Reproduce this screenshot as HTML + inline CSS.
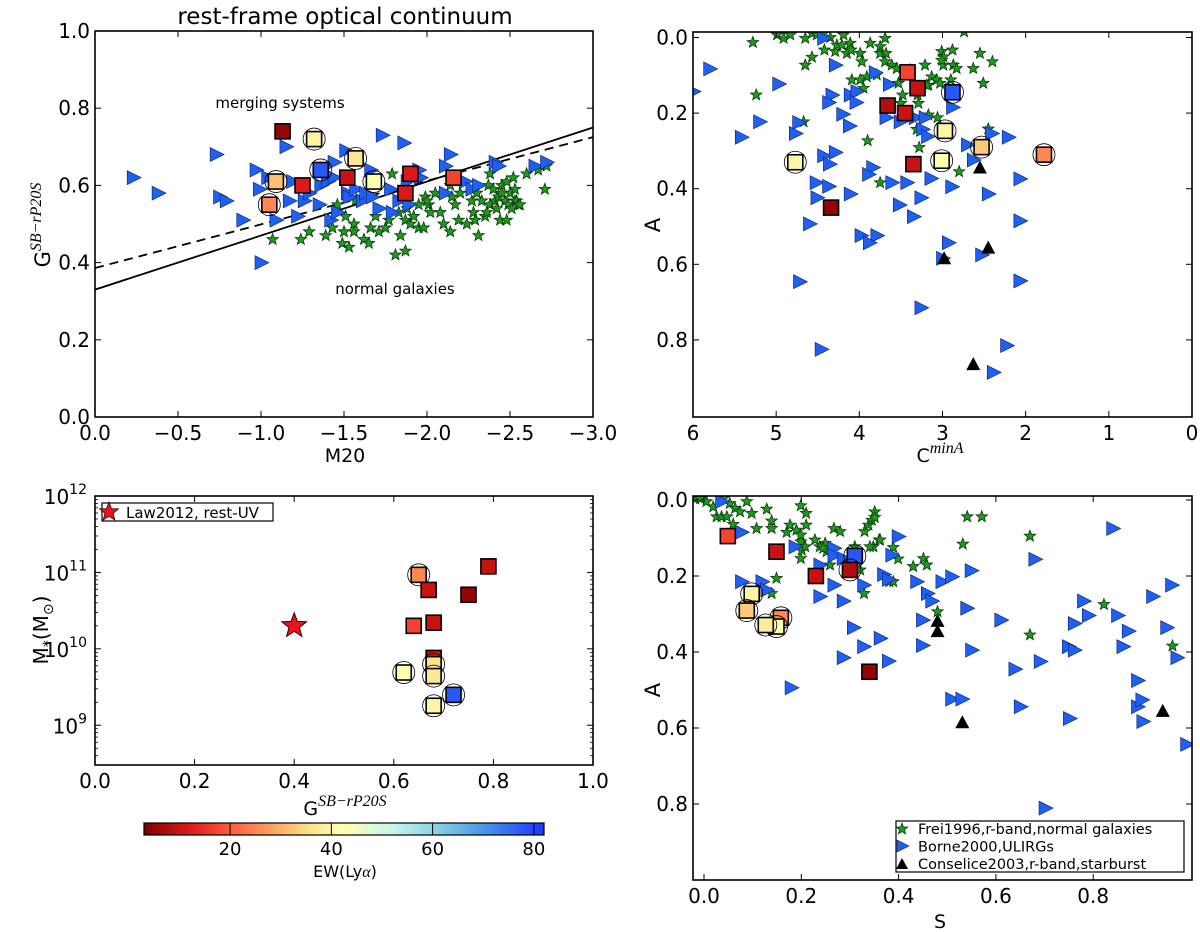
<!DOCTYPE html>
<html><head><meta charset="utf-8"><style>
html,body{margin:0;padding:0;background:#fff;}
svg{display:block;font-family:"DejaVu Sans","Liberation Sans",sans-serif;}
</style></head><body>
<svg id="fig" width="1200" height="932" viewBox="0 0 1200 932" xmlns="http://www.w3.org/2000/svg">
<rect width="1200" height="932" fill="#fff"/>
<text x="345" y="24" font-size="23" text-anchor="middle">rest-frame optical continuum</text>
<g id="p1"></g>
<g id="p2"></g>
<g id="p3"></g>
<g id="p4"></g>
<g id="cb"></g>
</svg>
<script>
// ---------- Panel 1: G vs M20 ----------
const p1StarM20=[-1.07,-1.24,-1.29,-1.39,-1.43,-1.46,-1.49,-1.50,-1.53,-1.51,-1.56,-1.56,-1.57,-1.62,-1.65,-1.66,-1.69,-1.71,-1.75,-1.77,-1.79,-1.81,-1.83,-1.84,-1.87,-1.87,-1.88,-1.90,-1.92,-1.95,-1.98,-1.99,-2.01,-2.02,-2.05,-2.08,-2.10,-2.14,-2.15,-2.17,-2.19,-2.24,-2.27,-2.28,-2.31,-2.33,-2.35,-2.37,-2.38,-2.38,-2.40,-2.41,-2.42,-2.44,-2.45,-2.47,-2.48,-2.49,-2.50,-2.52,-2.53,-2.53,-2.54,-2.55,-2.56,-2.60,-2.67,-2.71,-2.72,-2.48,-2.29,-2.36,-2.51,-2.43,-2.14,-2.00,-2.20,-2.30,-2.45,-1.95];
const p1StarG=[.46,.46,.48,.47,.49,.55,.45,.48,.44,.52,.50,.48,.56,.46,.45,.49,.52,.48,.49,.51,.63,.42,.53,.47,.43,.51,.54,.50,.52,.49,.49,.57,.55,.53,.58,.53,.50,.48,.57,.55,.51,.50,.56,.53,.47,.56,.52,.60,.63,.55,.59,.56,.54,.51,.60,.56,.61,.55,.58,.62,.56,.59,.56,.55,.55,.63,.64,.59,.65,.51,.51,.53,.54,.57,.60,.56,.58,.58,.58,.55];
const p1TriM20=[-0.23,-0.38,-0.73,-0.75,-0.79,-0.89,-0.97,-0.99,-1.04,-1.09,-1.15,-1.17,-1.19,-1.22,-1.26,-1.29,-1.35,-1.36,-1.40,-1.42,-1.44,-1.46,-1.44,-1.51,-1.52,-1.53,-1.57,-1.61,-1.63,-1.66,-1.67,-1.71,-1.73,-1.78,-1.79,-1.83,-1.86,-1.88,-1.89,-1.95,-1.96,-2.11,-2.11,-2.14,-2.23,-2.27,-2.31,-2.41,-2.43,-2.65,-2.72,-1.00,-1.25];
const p1TriG=[.62,.58,.68,.57,.56,.51,.64,.59,.62,.51,.70,.56,.61,.52,.56,.58,.55,.60,.61,.51,.66,.53,.62,.69,.58,.57,.59,.56,.58,.64,.57,.54,.73,.59,.53,.56,.71,.61,.55,.64,.62,.65,.58,.68,.61,.59,.60,.66,.65,.65,.66,.40,.60];
const p1SqM20=[-1.13,-1.32,-1.09,-1.05,-1.25,-1.36,-1.52,-1.57,-1.68,-1.90,-1.87,-2.16];
const p1SqG=[.74,.72,.61,.55,.60,.64,.62,.67,.61,.63,.58,.62];
const p1SqEW=[5,40,32,25,12,78,10,37,42,12,12,17];
const p1SqCirc=[0,1,1,1,0,1,0,1,1,0,0,0];
const p1LineSolid=[0.33,0.75];   // G at M20=0 and M20=-3
const p1LineDashed=[0.386,0.725];
const p1XTicks=[0,-0.5,-1,-1.5,-2,-2.5,-3];
const p1XLabels=["0.0","\u22120.5","\u22121.0","\u22121.5","\u22122.0","\u22122.5","\u22123.0"];
const p1YTicks=[0,0.2,0.4,0.6,0.8,1.0];
const p1YLabels=["0.0","0.2","0.4","0.6","0.8","1.0"];

// ---------- Panel 2: A vs C ----------
const p2StarC=[5.28,4.99,4.91,4.83,4.65,4.57,4.51,4.43,4.35,4.65,4.57,4.42,4.29,4.27,4.21,4.19,4.15,4.11,4.10,3.99,3.97,3.87,3.75,3.69,3.75,3.68,3.79,3.91,4.09,3.99,3.95,3.69,3.61,3.55,3.53,3.48,3.50,3.39,3.30,3.29,3.21,3.13,3.17,3.07,3.03,3.01,2.99,2.99,2.90,2.88,2.87,2.83,2.74,2.63,2.55,2.51,2.40,3.17,3.06,3.31,3.28,2.80,3.75,3.90,5.24,4.67,2.45,3.01,3.19];
const p2StarA=[.013,-.007,.002,-.007,.002,-.011,-.007,-.011,0,.073,.052,.033,.037,.020,.020,-.007,.042,.015,.033,.042,.064,.015,.024,.002,.042,.042,.099,.104,.112,.112,.134,.064,.073,.082,.121,.152,.174,.086,.152,.174,.073,.104,.126,.112,.121,.037,.051,.073,.112,.033,.073,.082,-.015,.082,.042,.121,.064,.205,.212,.243,.291,.355,.384,.273,.152,.223,.242,.060,.126];
const p2TriC=[5.80,6.00,4.43,4.29,3.81,3.64,4.97,4.33,4.37,4.11,4.03,4.04,5.20,4.73,4.77,4.20,4.12,5.42,3.68,3.51,3.33,3.21,3.24,3.18,2.88,2.70,2.63,2.41,2.21,4.43,4.36,4.29,3.84,3.89,4.52,4.37,4.51,4.11,3.61,3.43,3.14,2.89,3.26,2.45,2.07,3.52,3.35,4.60,3.98,3.79,3.88,2.93,3.00,2.53,2.07,4.72,2.07,3.26,2.23,4.46,2.39];
const p2TriA=[.083,.143,.002,.073,.093,.124,.123,.152,.172,.152,.143,.172,.223,.225,.254,.203,.234,.264,.212,.223,.212,.212,.243,.262,.185,.284,.324,.254,.264,.313,.335,.304,.344,.362,.384,.394,.424,.414,.384,.384,.373,.395,.424,.414,.374,.443,.474,.493,.524,.524,.543,.543,.584,.575,.485,.646,.644,.715,.815,.825,.886];
const p2BlkC=[2.55,2.45,2.98,2.63];
const p2BlkA=[0.344,0.556,0.584,0.864];
const p2SqC=[3.42,3.30,2.88,3.66,3.45,2.97,2.53,1.78,4.77,3.01,3.35,4.34];
const p2SqA=[.092,.134,.145,.18,.20,.247,.29,.31,.33,.326,.335,.45];
const p2SqEW=[17,10,78,8,10,40,33,25,40,42,10,5];
const p2SqCirc=[0,0,1,0,0,1,1,1,1,1,0,0];
const p2XTicks=[6,5,4,3,2,1,0];
const p2XLabels=["6","5","4","3","2","1","0"];
const p2YTicks=[0,0.2,0.4,0.6,0.8];
const p2YLabels=["0.0","0.2","0.4","0.6","0.8"];

// ---------- Panel 3: M* vs G ----------
const p3SqG=[0.65,0.67,0.75,0.79,0.64,0.68,0.68,0.68,0.62,0.68,0.72,0.68];
const p3SqMass=[9.3e10,5.9e10,5.1e10,1.2e11,2.0e10,2.2e10,7.6e9,6.3e9,4.9e9,4.4e9,2.5e9,1.8e9];
const p3SqEW=[25,10,5,10,17,10,10,36,42,37,78,40];
const p3SqCirc=[1,0,0,0,0,0,0,1,1,1,1,1];
const p3LawG=[0.40];
const p3LawMass=[2.0e10];
const p3XTicks=[0,0.2,0.4,0.6,0.8,1.0];
const p3XLabels=["0.0","0.2","0.4","0.6","0.8","1.0"];
const p3YDecades=[9,10,11,12];

// ---------- Panel 4: A vs S ----------
const p4StarS=[-.018,-.008,.005,.019,.026,.036,.047,.040,.053,.064,.060,.074,.088,.098,.108,.129,.139,.139,.149,.139,.170,.177,.190,.199,.199,.199,.199,.201,.210,.210,.208,.228,.238,.249,.252,.259,.267,.280,.310,.321,.329,.330,.338,.345,.351,.351,.360,.348,.389,.399,.381,.389,.430,.451,.458,.480,.532,.541,.571,.670,.670,.822,.963,.341,.362,.245];
const p4StarA=[-.003,-.004,.004,.018,.044,.044,.044,-.004,.009,.022,.064,.031,.004,.035,.075,.024,.075,.055,.206,.246,.085,.066,.079,.015,.110,.154,.092,.132,.035,.066,.123,.105,.123,.114,.136,.171,.075,.083,.123,.184,.246,.083,.066,.053,.031,.046,.105,.123,.125,.155,.215,.215,.175,.154,.171,.294,.116,.044,.044,.095,.355,.275,.384,.123,.105,.127];
const p4TriS=[.036,.077,.077,.119,.129,.187,.238,.238,.267,.267,.267,.286,.286,.286,.307,.328,.328,.362,.369,.379,.379,.386,.399,.437,.449,.459,.468,.449,.489,.509,.549,.540,.550,.610,.639,.650,.680,.691,.701,.751,.749,.761,.761,.780,.790,.840,.850,.872,.861,.891,.891,.900,.902,.922,.961,.951,.972,.992,.509,.530,.179];
const p4TriA=[.004,.085,.215,.215,.237,.123,.171,.254,.127,.224,.146,.154,.266,.415,.336,.386,.224,.364,.196,.424,.209,.145,.096,.215,.383,.246,.266,.316,.215,.202,.186,.285,.395,.316,.445,.544,.156,.425,.811,.575,.386,.395,.325,.266,.304,.075,.304,.345,.386,.475,.544,.526,.583,.254,.224,.336,.415,.643,.524,.524,.494];
const p4BlkS=[0.48,0.48,0.531,0.943];
const p4BlkA=[0.318,0.345,0.585,0.555];
const p4SqS=[.049,.149,.31,.23,.30,.098,.088,.158,.149,.127,.34];
const p4SqA=[.095,.136,.147,.20,.184,.247,.291,.31,.333,.329,.452];
const p4SqEW=[17,10,78,10,8,40,33,25,42,38,5];
const p4SqCirc=[0,0,1,0,1,1,1,1,1,1,0];
const p4XTicks=[0,0.2,0.4,0.6,0.8];
const p4XLabels=["0.0","0.2","0.4","0.6","0.8"];
const p4YTicks=[0,0.2,0.4,0.6,0.8];
const p4YLabels=["0.0","0.2","0.4","0.6","0.8"];

// ---------- Colorbar ----------
const cbTicks=[20,40,60,80];
const cbLabels=["20","40","60","80"];
const cbRange=[3,82];

const NS="http://www.w3.org/2000/svg";
function el(parent,tag,attrs){const e=document.createElementNS(NS,tag);for(const k in attrs)e.setAttribute(k,attrs[k]);parent.appendChild(e);return e;}
const cmapStops=[[3,[128,0,0]],[12,[222,24,24]],[20,[255,92,60]],[28,[253,160,95]],[36,[253,226,140]],[42,[255,255,176]],[52,[200,245,236]],[60,[140,214,228]],[70,[74,150,232]],[82,[26,56,255]]];
function cmap(v){
  if(v<=cmapStops[0][0])return "rgb("+cmapStops[0][1]+")";
  for(let i=1;i<cmapStops.length;i++){if(v<=cmapStops[i][0]){const a=cmapStops[i-1],b=cmapStops[i];const t=(v-a[0])/(b[0]-a[0]);
    return "rgb("+a[1].map((c,j)=>Math.round(c+(b[1][j]-c)*t)).join(",")+")";}}
  return "rgb("+cmapStops[cmapStops.length-1][1]+")";
}
function lin(d0,d1,r0,r1){return v=>r0+(v-d0)/(d1-d0)*(r1-r0);}
function starPts(r){let p=[];for(let i=0;i<10;i++){const a=-Math.PI/2+i*Math.PI/5;const rr=i%2?r*0.42:r;p.push((rr*Math.cos(a)).toFixed(2)+","+(rr*Math.sin(a)).toFixed(2));}return p.join(" ");}

function frame(g,box){
  const r=el(g,'rect',{x:box.l,y:box.t,width:box.r-box.l,height:box.b-box.t,fill:'none',stroke:'#000','stroke-width':1.6});
  
  
}
function xticks(g,box,sx,ticks,labels,name){
  ticks.forEach((t,i)=>{const x=sx(t);
    el(g,'line',{x1:x,x2:x,y1:box.b,y2:box.b-6,stroke:'#000','stroke-width':1});
    el(g,'line',{x1:x,x2:x,y1:box.t,y2:box.t+6,stroke:'#000','stroke-width':1});
    const tx=el(g,'text',{x:x,y:box.b+23,'font-size':20,'text-anchor':'middle'});tx.textContent=labels[i];
    
    
  });
}
function yticks(g,box,sy,ticks,labels,name){
  ticks.forEach((t,i)=>{const y=sy(t);
    el(g,'line',{x1:box.l,x2:box.l+6,y1:y,y2:y,stroke:'#000','stroke-width':1});
    el(g,'line',{x1:box.r,x2:box.r-6,y1:y,y2:y,stroke:'#000','stroke-width':1});
    const tx=el(g,'text',{x:box.l-5,y:y+7,'font-size':20,'text-anchor':'end'});tx.textContent=labels[i];
    
    
  });
}
function stars(g,xs,ys,sx,sy){xs.forEach((v,i)=>{const s=el(g,'polygon',{points:starPts(6),transform:`translate(${sx(v)},${sy(ys[i])})`,fill:'#1f9a1f',stroke:'#0a3a0a','stroke-width':0.8});
  
  });}
function tris(g,xs,ys,sx,sy){xs.forEach((v,i)=>{const s=el(g,'polygon',{points:"-6,-7 8,0 -6,7",transform:`translate(${sx(v)},${sy(ys[i])})`,fill:'#2060f0',stroke:'#0a1f6a','stroke-width':0.6});
  
  });}
function blk(g,xs,ys,sx,sy){xs.forEach((v,i)=>{const s=el(g,'polygon',{points:"0,-7 7,6 -7,6",transform:`translate(${sx(v)},${sy(ys[i])})`,fill:'#000'});
  
  });}
function squares(g,xs,ys,ew,circ,sx,sy){xs.forEach((v,i)=>{const x=sx(v),y=sy(ys[i]);
  const s=el(g,'rect',{x:x-7.5,y:y-7.5,width:15,height:15,fill:cmap(ew[i]),stroke:'#000','stroke-width':1.6});
  
  
  if(circ[i]){const c=el(g,'circle',{cx:x,cy:y,r:11,fill:'none',stroke:'#000','stroke-width':0.8});
    
    }
});}

// Panel 1
(function(){
  const g=document.getElementById('p1');const box={l:95,r:593,t:31,b:417};
  const sx=lin(0,-3,box.l,box.r), sy=lin(0,1,box.b,box.t);
  el(g,'clipPath',{id:'c1'});el(document.getElementById('c1'),'rect',{x:box.l,y:box.t,width:box.r-box.l,height:box.b-box.t});
  const d=el(g,'g',{'clip-path':'url(#c1)'});
  const ls=el(d,'line',{x1:sx(0),y1:sy(p1LineSolid[0]),x2:sx(-3),y2:sy(p1LineSolid[1]),stroke:'#000','stroke-width':1.8});
  
  
  const ld=el(d,'line',{x1:sx(0),y1:sy(p1LineDashed[0]),x2:sx(-3),y2:sy(p1LineDashed[1]),stroke:'#000','stroke-width':1.8,'stroke-dasharray':'9,6'});
  
  
  stars(d,p1StarM20,p1StarG,sx,sy);tris(d,p1TriM20,p1TriG,sx,sy);
  squares(d,p1SqM20,p1SqG,p1SqEW,p1SqCirc,sx,sy);
  frame(g,box);xticks(g,box,sx,p1XTicks,p1XLabels,'x');yticks(g,box,sy,p1YTicks,p1YLabels,'y');
  let t=el(g,'text',{x:280,y:108,'font-size':15,'text-anchor':'middle'});t.textContent='merging systems';
  
  
  t=el(g,'text',{x:395,y:294,'font-size':15,'text-anchor':'middle'});t.textContent='normal galaxies';
  
  
  t=el(g,'text',{x:345,y:462,'font-size':19,'text-anchor':'middle'});t.textContent='M20';
  
  
  t=el(g,'text',{x:0,y:0,'font-size':21,'text-anchor':'middle',transform:'translate(50,225) rotate(-90)'});
  t.innerHTML='G<tspan dy="-9" font-size="16" font-style="italic" font-family="Liberation Serif, serif">SB\u2212rP20S</tspan>';
  
  
})();

// Panel 2
(function(){
  const g=document.getElementById('p2');const box={l:693,r:1192,t:32,b:417};
  const sx=lin(6,0,box.l,box.r), sy=lin(0,1,37.5,415.5);
  el(g,'clipPath',{id:'c2'});el(document.getElementById('c2'),'rect',{x:box.l,y:box.t,width:box.r-box.l,height:box.b-box.t});
  const d=el(g,'g',{'clip-path':'url(#c2)'});
  stars(d,p2StarC,p2StarA,sx,sy);tris(d,p2TriC,p2TriA,sx,sy);blk(d,p2BlkC,p2BlkA,sx,sy);
  squares(d,p2SqC,p2SqA,p2SqEW,p2SqCirc,sx,sy);
  frame(g,box);xticks(g,box,sx,p2XTicks,p2XLabels,'x');yticks(g,box,sy,p2YTicks,p2YLabels,'y');
  let t=el(g,'text',{x:940,y:462,'font-size':19,'text-anchor':'middle'});
  t.innerHTML='C<tspan dy="-9" font-size="16" font-style="italic" font-family="Liberation Serif, serif">minA</tspan>';
  
  
  t=el(g,'text',{x:0,y:0,'font-size':21,'text-anchor':'middle',transform:'translate(660,225) rotate(-90)'});t.textContent='A';
  
  
})();

// Panel 3
(function(){
  const g=document.getElementById('p3');const box={l:95,r:593,t:496,b:765};
  const sx=lin(0,1,box.l,box.r); const syl=lin(8.48,12,box.b,box.t); const sy=v=>syl(Math.log10(v));
  el(g,'clipPath',{id:'c3'});el(document.getElementById('c3'),'rect',{x:box.l,y:box.t,width:box.r-box.l,height:box.b-box.t});
  const d=el(g,'g',{'clip-path':'url(#c3)'});
  squares(d,p3SqG,p3SqMass,p3SqEW,p3SqCirc,sx,sy);
  p3LawG.forEach((v,i)=>{const s=el(d,'polygon',{points:starPts(13),transform:`translate(${sx(v)},${sy(p3LawMass[i])})`,fill:'#e8141e',stroke:'#300','stroke-width':1});
    
    });
  frame(g,box);xticks(g,box,sx,p3XTicks,p3XLabels,'x');
  for(let dd=8;dd<=11;dd++)for(let m=2;m<=9;m++){const lv=dd+Math.log10(m);if(lv<8.48||lv>12)continue;const y=syl(lv);
    el(g,'line',{x1:box.l,x2:box.l+3,y1:y,y2:y,stroke:'#000','stroke-width':0.8});el(g,'line',{x1:box.r,x2:box.r-3,y1:y,y2:y,stroke:'#000','stroke-width':0.8});}
  p3YDecades.forEach(dd=>{const y=syl(dd);
    el(g,'line',{x1:box.l,x2:box.l+6,y1:y,y2:y,stroke:'#000','stroke-width':1});el(g,'line',{x1:box.r,x2:box.r-6,y1:y,y2:y,stroke:'#000','stroke-width':1});
    const t=el(g,'text',{x:box.l-8,y:y+8,'font-size':20,'text-anchor':'end'});
    t.innerHTML='10<tspan dy="-10" font-size="14">'+dd+'</tspan>';
    
    });
  const lg=el(g,'g',{});
  el(lg,'rect',{x:102,y:503,width:171,height:18,fill:'#fff',stroke:'#000','stroke-width':1.2});
  el(lg,'polygon',{points:starPts(10),transform:'translate(109,512)',fill:'#e8141e',stroke:'#300','stroke-width':0.8});
  let t=el(lg,'text',{x:126,y:518,'font-size':15});t.textContent='Law2012, rest-UV';
  
  
  t=el(g,'text',{x:345,y:815,'font-size':19,'text-anchor':'middle'});
  t.innerHTML='G<tspan dy="-9" font-size="16" font-style="italic" font-family="Liberation Serif, serif">SB\u2212rP20S</tspan>';
  
  
  t=el(g,'text',{x:0,y:0,'font-size':20,'text-anchor':'middle',transform:'translate(48,630) rotate(-90)'});
  t.innerHTML='M<tspan dy="5" font-size="14">*</tspan><tspan dy="-5">(M</tspan><tspan dy="5" font-size="14">\u2299</tspan><tspan dy="-5">)</tspan>';
  
  
})();

// Panel 4
(function(){
  const g=document.getElementById('p4');const box={l:693,r:1192,t:496,b:880};
  const sx=lin(0,1,704,1190.5), sy=lin(0,1,500,880);
  el(g,'clipPath',{id:'c4'});el(document.getElementById('c4'),'rect',{x:box.l,y:box.t,width:box.r-box.l,height:box.b-box.t});
  const d=el(g,'g',{'clip-path':'url(#c4)'});
  stars(d,p4StarS,p4StarA,sx,sy);tris(d,p4TriS,p4TriA,sx,sy);blk(d,p4BlkS,p4BlkA,sx,sy);
  squares(d,p4SqS,p4SqA,p4SqEW,p4SqCirc,sx,sy);
  frame(g,box);xticks(g,box,sx,p4XTicks,p4XLabels,'x');yticks(g,box,sy,p4YTicks,p4YLabels,'y');
  const lg=el(g,'g',{});
  el(lg,'rect',{x:896,y:821,width:288,height:51,fill:'#fff',stroke:'#000','stroke-width':1.2});
  el(lg,'polygon',{points:starPts(6),transform:'translate(902,829)',fill:'#1f9a1f',stroke:'#0a3a0a','stroke-width':0.8});
  el(lg,'polygon',{points:"-5,-6 7,0 -5,6",transform:'translate(902,846)',fill:'#2060f0',stroke:'#0a1f6a','stroke-width':0.6});
  el(lg,'polygon',{points:"0,-6 6,5 -6,5",transform:'translate(902,864)',fill:'#000'});
  const names=['Frei1996,r-band,normal galaxies','Borne2000,ULIRGs','Conselice2003,r-band,starburst'];
  names.forEach((n,i)=>{const t=el(lg,'text',{x:918,y:834+i*17.5,'font-size':14.5});t.textContent=n;
    
    });
  let t=el(g,'text',{x:940,y:928,'font-size':19,'text-anchor':'middle'});t.textContent='S';
  
  
  t=el(g,'text',{x:0,y:0,'font-size':21,'text-anchor':'middle',transform:'translate(660,690) rotate(-90)'});t.textContent='A';
  
  
})();

// Colorbar
(function(){
  const g=document.getElementById('cb');const l=144,r=544,t=823,b=835;
  const sx=lin(cbRange[0],cbRange[1],l,r);
  const defs=el(g,'defs',{});const lgd=el(defs,'linearGradient',{id:'cbg',x1:0,x2:1,y1:0,y2:0});
  cmapStops.forEach(s=>{el(lgd,'stop',{offset:((s[0]-cbRange[0])/(cbRange[1]-cbRange[0])),'stop-color':cmap(s[0])});});
  const bar=el(g,'rect',{x:l,y:t,width:r-l,height:b-t,fill:'url(#cbg)',stroke:'#000','stroke-width':1.2});
  
  
  cbTicks.forEach((v,i)=>{const x=sx(v);el(g,'line',{x1:x,x2:x,y1:t,y2:b,stroke:'#000','stroke-width':1});
    const tx=el(g,'text',{x:x,y:b+20,'font-size':18,'text-anchor':'middle'});tx.textContent=cbLabels[i];
    
    });
  const tl=el(g,'text',{x:345,y:877,'font-size':16,'text-anchor':'middle'});tl.innerHTML='EW(Ly<tspan font-style="italic" font-family="Liberation Serif, serif">\u03b1</tspan>)';
  
  
})();
</script>
</body></html>
